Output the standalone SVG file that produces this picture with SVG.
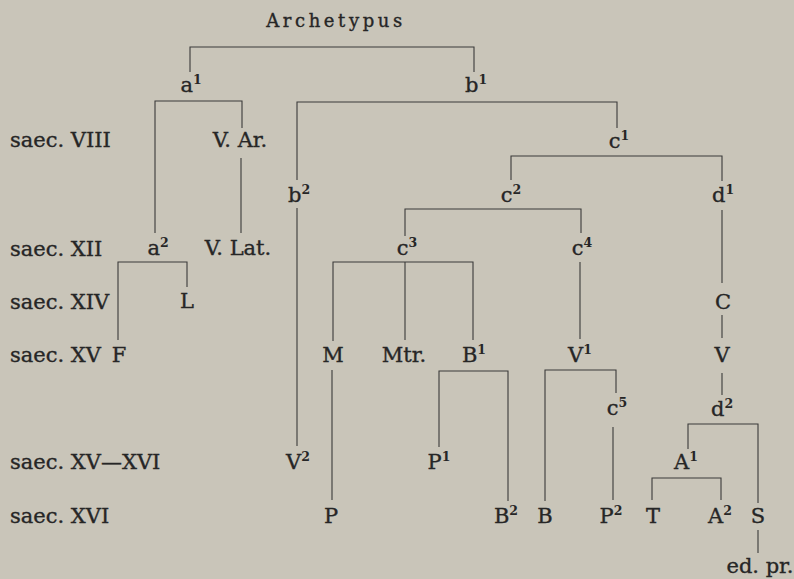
<svg xmlns="http://www.w3.org/2000/svg" width="794" height="579" viewBox="0 0 794 579">
<style>
text{font-family:"DejaVu Serif","Liberation Serif",serif;font-size:21px;fill:#262626;stroke:#262626;stroke-width:0.35}
.n{text-anchor:middle}
.s{font-size:12.5px;font-weight:bold;stroke-width:0}
.title{font-size:18px;letter-spacing:3.6px}
.c path{fill:none;stroke:#3a3a3a;stroke-width:1.1}
</style>
<rect width="794" height="579" fill="#c9c5b9"/>
<g class="c" id="connectors">
<path d="M190,72V47H474V72"/>
<path d="M155,233V101H242V128"/>
<path d="M241,158V233"/>
<path d="M118,340V262H187V287"/>
<path d="M297,180V102H617V128"/>
<path d="M297,208V446"/>
<path d="M511,180V156H722V181"/>
<path d="M405,236V209H581V233"/>
<path d="M333,341V262H473V340"/>
<path d="M405,262V340"/>
<path d="M332,370V500"/>
<path d="M439,447V371H508V501"/>
<path d="M580,262V339"/>
<path d="M545,501V370H616V393"/>
<path d="M613,427V500"/>
<path d="M722,210V283"/>
<path d="M722,315V338"/>
<path d="M722,373V395"/>
<path d="M688,449V424H758V503"/>
<path d="M652,500V478H721V500"/>
<path d="M758,530V553"/>
</g>
<g id="periods">
<text x="10" y="147">saec. VIII</text>
<text x="10" y="256">saec. XII</text>
<text x="10" y="309">saec. XIV</text>
<text x="10" y="362">saec. XV</text>
<text x="10" y="469">saec. XV—XVI</text>
<text x="10" y="523">saec. XVI</text>
</g>
<g id="archetypus"><text class="n title" x="336" y="27">Archetypus</text></g>
<g id="a1"><text class="n" x="191" y="92">a<tspan class="s" dy="-8">1</tspan></text></g>
<g id="b1"><text class="n" x="476" y="92">b<tspan class="s" dy="-8">1</tspan></text></g>
<g id="VAr"><text class="n" x="240" y="147">V. Ar.</text></g>
<g id="c1"><text class="n" x="619" y="148">c<tspan class="s" dy="-8">1</tspan></text></g>
<g id="b2"><text class="n" x="299" y="202">b<tspan class="s" dy="-8">2</tspan></text></g>
<g id="c2"><text class="n" x="511" y="202">c<tspan class="s" dy="-8">2</tspan></text></g>
<g id="d1"><text class="n" x="723" y="202">d<tspan class="s" dy="-8">1</tspan></text></g>
<g id="a2"><text class="n" x="158" y="255">a<tspan class="s" dy="-8">2</tspan></text></g>
<g id="VLat"><text class="n" x="238" y="255">V. Lat.</text></g>
<g id="c3"><text class="n" x="407" y="255">c<tspan class="s" dy="-8">3</tspan></text></g>
<g id="c4"><text class="n" x="582" y="255">c<tspan class="s" dy="-8">4</tspan></text></g>
<g id="L"><text class="n" x="187" y="308">L</text></g>
<g id="C"><text class="n" x="723" y="309">C</text></g>
<g id="F"><text class="n" x="119" y="362">F</text></g>
<g id="M"><text class="n" x="333" y="362">M</text></g>
<g id="Mtr"><text class="n" x="404" y="362">Mtr.</text></g>
<g id="B1"><text class="n" x="474" y="362">B<tspan class="s" dy="-8">1</tspan></text></g>
<g id="V1"><text class="n" x="580" y="362">V<tspan class="s" dy="-8">1</tspan></text></g>
<g id="V"><text class="n" x="722" y="362">V</text></g>
<g id="c5"><text class="n" x="617" y="415">c<tspan class="s" dy="-8">5</tspan></text></g>
<g id="d2"><text class="n" x="722" y="416">d<tspan class="s" dy="-8">2</tspan></text></g>
<g id="V2"><text class="n" x="298" y="469">V<tspan class="s" dy="-8">2</tspan></text></g>
<g id="P1"><text class="n" x="439" y="469">P<tspan class="s" dy="-8">1</tspan></text></g>
<g id="A1"><text class="n" x="686" y="469">A<tspan class="s" dy="-8">1</tspan></text></g>
<g id="P"><text class="n" x="331" y="523">P</text></g>
<g id="B2"><text class="n" x="506" y="523">B<tspan class="s" dy="-8">2</tspan></text></g>
<g id="B"><text class="n" x="545" y="523">B</text></g>
<g id="P2"><text class="n" x="611" y="523">P<tspan class="s" dy="-8">2</tspan></text></g>
<g id="T"><text class="n" x="653" y="523">T</text></g>
<g id="A2"><text class="n" x="720" y="523">A<tspan class="s" dy="-8">2</tspan></text></g>
<g id="S"><text class="n" x="758" y="523">S</text></g>
<g id="edpr"><text class="n" x="760" y="573">ed. pr.</text></g>
</svg>
